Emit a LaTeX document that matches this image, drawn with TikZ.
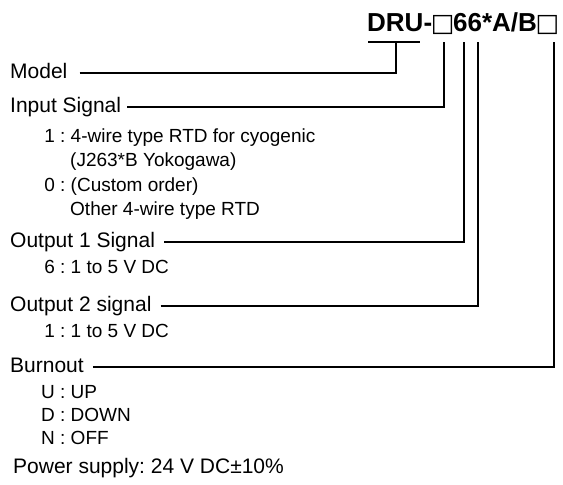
\documentclass[tikz,border=0pt]{standalone}
\usepackage{fontspec}
\setmainfont{Liberation Sans}
\newfontfamily\boxfont{DejaVu Sans}
\frenchspacing
\newcommand{\optkey}[1]{\makebox[13.7pt][r]{#1}~:~}
\newcommand{\codebox}{\makebox[21pt]{\boxfont\mdseries\fontsize{25}{25}\selectfont □}}
\begin{document}
\begin{tikzpicture}[x=1pt,y=-1pt,
    lbl/.style={anchor=base west,inner sep=0pt,font=\fontsize{21}{25}\selectfont},
    opt/.style={anchor=base west,inner sep=0pt,font=\fontsize{19}{23}\selectfont},
    lead/.style={line width=1.1pt}]
    \useasboundingbox (0,0) rectangle (563,485);
    % model code
    \node[anchor=base west,inner sep=0pt,font=\bfseries\fontsize{26}{30}\selectfont] (code) at (367,31)
        {DRU-\codebox66*A/B\codebox};
    \coordinate (dru0) at (368,42);
    \coordinate (dru1) at (420,42);
    \coordinate (tmodel) at (396,42);
    \coordinate (tinput) at (444,42);
    \coordinate (tout1) at (464,42);
    \coordinate (tout2) at (478,42);
    \coordinate (tburn) at (554,42);
    \draw[lead] (dru0) -- (dru1);
    % fields
    \node[lbl] (model) at (10,78) {Model};
    \node[lbl] (input) at (10,112) {Input Signal};
    \node[opt] (in1) at (41,142) {\optkey{1}4-wire type RTD for cyogenic};
    \node[opt] (in1b) at (70,166) {(J263*B Yokogawa)};
    \node[opt] (in0) at (41,191) {\optkey{0}(Custom order)};
    \node[opt] (in0b) at (70,215) {Other 4-wire type RTD};
    \node[lbl] (out1) at (10,247) {Output 1 Signal};
    \node[opt] (out1a) at (41,273) {\optkey{6}1 to 5 V DC};
    \node[lbl] (out2) at (10,311) {Output 2 signal};
    \node[opt] (out2a) at (41,337) {\optkey{1}1 to 5 V DC};
    \node[lbl] (burn) at (10,372) {Burnout};
    \node[opt] (burnu) at (41,398) {\optkey{U}UP};
    \node[opt] (burnd) at (41,421) {\optkey{D}DOWN};
    \node[opt] (burnn) at (41,444) {\optkey{N}OFF};
    \node[lbl] (power) at (13,473) {Power supply: 24 V DC±10\%};
    % leader lines
    \draw[lead] ([shift={(12,-5)}]model.base east) -| (tmodel);
    \draw[lead] ([shift={(6,-5)}]input.base east) -| (tinput);
    \draw[lead] ([shift={(9,-5)}]out1.base east) -| (tout1);
    \draw[lead] ([shift={(9,-5)}]out2.base east) -| (tout2);
    \draw[lead] ([shift={(9,-5)}]burn.base east) -| (tburn);
\end{tikzpicture}
\end{document}
